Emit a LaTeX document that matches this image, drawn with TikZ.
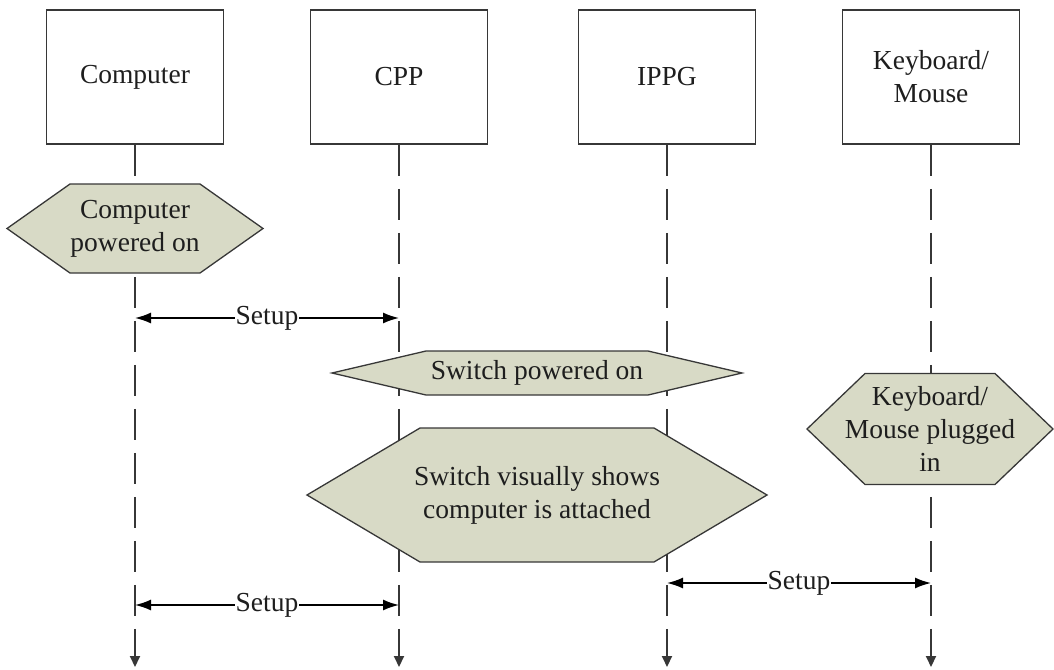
\documentclass[tikz,border=0pt]{standalone}
\usepackage{fontspec}
\setmainfont{Liberation Serif}
\newfontfamily\timesfont{Liberation Serif}
\usetikzlibrary{arrows.meta,calc}
\definecolor{hexfillc}{RGB}{216,218,198}
\definecolor{linec}{RGB}{55,55,55}
\definecolor{textc}{RGB}{30,30,30}
\newcommand{\hexnode}[7]{%
  \filldraw[hexshape] (#2-#4,#3) -- (#2-#5,#3-#6) -- (#2+#5,#3-#6) -- (#2+#4,#3) -- (#2+#5,#3+#6) -- (#2-#5,#3+#6) -- cycle;
  \node[hextext] (#1) at (#2,#3) {#7};}
\begin{document}
\begin{tikzpicture}[x=1pt,y=-1pt,
  every node/.style={font=\timesfont\fontsize{27.5}{33}\selectfont, text=textc},
  actor/.style={draw=linec, line width=1.6pt, minimum width=177pt, minimum height=134pt, align=center, inner sep=0pt},
  life/.style={draw=linec, line width=2pt, dash pattern=on 31pt off 13pt, -{Triangle[length=11pt,width=10pt]}},
  hexshape/.style={fill=hexfillc, draw=linec, line width=1.3pt},
  hextext/.style={align=center, inner sep=0pt},
  setup/.style={draw=black, line width=1.6pt, {Latex[length=16pt,width=11pt]}-{Latex[length=16pt,width=11pt]}},
  lbl/.style={fill=white, inner sep=1pt}]
\useasboundingbox (0,0) rectangle (1054,669);
% actors
\node[actor] (comp) at (135,77) {Computer};
\node[actor] (cpp) at (399,77) {CPP};
\node[actor] (ippg) at (667,77) {IPPG};
\node[actor] (kbd) at (931,77) {Keyboard/\\Mouse};
% lifeline ends
\coordinate (compend) at (135,667);
\coordinate (cppend) at (399,667);
\coordinate (ippgend) at (667,667);
\coordinate (kbdend) at (931,667);
\draw[life] (comp.south) -- (compend);
\draw[life] (cpp.south) -- (cppend);
\draw[life] (ippg.south) -- (ippgend);
\draw[life] (kbd.south) -- (kbdend);
% events
\hexnode{ev1}{135}{228.5}{128}{65}{44.5}{Computer\\powered on}
\hexnode{ev2}{537}{373}{205}{111}{22}{Switch powered on}
\hexnode{ev3}{537}{495}{230}{117}{67}{Switch visually shows\\computer is attached}
\hexnode{ev4}{930}{429}{123}{65}{55.5}{Keyboard/\\Mouse plugged\\in}
% setup messages
\coordinate (s1a) at (135,318);
\coordinate (s1b) at (399,318);
\draw[setup] (s1a) -- (s1b) node[lbl, pos=0.5] (s1) {Setup};
\coordinate (s2a) at (667,583);
\coordinate (s2b) at (931,583);
\draw[setup] (s2a) -- (s2b) node[lbl, pos=0.5] (s2) {Setup};
\coordinate (s3a) at (135,605);
\coordinate (s3b) at (399,605);
\draw[setup] (s3a) -- (s3b) node[lbl, pos=0.5] (s3) {Setup};
\end{tikzpicture}
\end{document}
